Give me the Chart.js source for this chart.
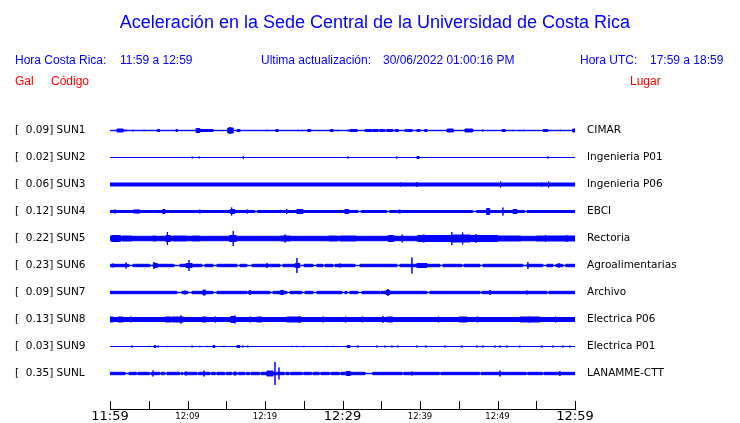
<!DOCTYPE html>
<html>
<head>
<meta charset="utf-8">
<script src="https://cdn.jsdelivr.net/npm/chart.js@4"></script>
<style>
  body { margin: 0; background: #fff; }
  #wrap { position: relative; width: 740px; height: 423px; }
  #wrap span { position: absolute; white-space: pre; font-family: "Liberation Sans", Arial, sans-serif; font-size: 12px; line-height: 14px; color: #0000ff; }
  #wrap span.red { color: #ff0000; }
  #wrap .title { left: 5px; width: 740px; text-align: center; font-size: 18px; line-height: 22px; top: 11px; }
  canvas { position: absolute; left: 0; top: 0; }
</style>
</head>
<body>
<div id="wrap">
  <canvas id="c" width="740" height="423"></canvas>
  <span class="title">Aceleración en la Sede Central de la Universidad de Costa Rica</span>
  <span style="left:15px;top:53px">Hora Costa Rica:</span>
  <span style="left:120px;top:53px">11:59 a 12:59</span>
  <span style="left:261px;top:53px">Ultima actualización:</span>
  <span style="left:383px;top:53px">30/06/2022 01:00:16 PM</span>
  <span style="left:580px;top:53px">Hora UTC:</span>
  <span style="left:650px;top:53px">17:59 a 18:59</span>
  <span class="red" style="left:15px;top:74px">Gal</span>
  <span class="red" style="left:51px;top:74px">Código</span>
  <span class="red" style="left:630px;top:74px">Lugar</span>
</div>
<script>
// stations, top to bottom
var codes = ['SUN1', 'SUN2', 'SUN3', 'SUN4', 'SUN5', 'SUN6', 'SUN7', 'SUN8', 'SUN9', 'SUNL'];
var places = ['CIMAR', 'Ingenieria P01', 'Ingenieria P06', 'EBCI', 'Rectoria', 'Agroalimentarias', 'Archivo', 'Electrica P06', 'Electrica P01', 'LANAMME-CTT'];
var peaks = [0.09, 0.02, 0.06, 0.12, 0.22, 0.23, 0.09, 0.13, 0.03, 0.35];

// time axis (minutes after 11:59)
var timeLabels = ['11:59', '12:09', '12:19', '12:29', '12:39', '12:49', '12:59'];
var bigLabels = ['11:59', '12:29', '12:59'];

// background amplitude of each trace (Gal)
var bases = [0.006, 0, 0.045, 0.03, 0.066, 0.036, 0.036, 0.06, 0, 0.036];

// bursts: [start min, end min, amplitude Gal]; spikes: [min, amplitude Gal]
var sun1Bursts = [[0.9, 1.7, 0.045], [1.7, 2.2, 0.015], [2.8, 3.1, 0.015], [6.1, 6.4, 0.03], [8.5, 8.7, 0.03], [11.1, 11.6, 0.06], [11.6, 13.3, 0.03], [15.2, 15.9, 0.075], [16.4, 16.8, 0.03], [21.4, 21.7, 0.03], [25.5, 25.9, 0.03], [28.4, 28.8, 0.03], [30.6, 31.0, 0.015], [31.0, 31.9, 0.03], [32.9, 33.8, 0.03], [33.9, 34.6, 0.03], [34.8, 35.5, 0.03], [35.7, 36.5, 0.03], [36.8, 37.2, 0.03], [38.1, 38.3, 0.03], [38.4, 39.0, 0.03], [39.6, 40.0, 0.03], [40.6, 40.9, 0.03], [43.5, 44.3, 0.045], [45.8, 46.8, 0.045], [50.6, 51.0, 0.03], [55.9, 56.5, 0.03], [59.7, 60, 0.045]];
var sun1Spikes = [[0.3, 0.015], [4.4, 0.021], [7.5, 0.015], [15.5, 0.105], [17.7, 0.015], [20.3, 0.021], [22.8, 0.015], [24.3, 0.021], [24.8, 0.021], [29.4, 0.021], [48.1, 0.03], [52.0, 0.021], [52.9, 0.021], [53.4, 0.021], [58.1, 0.021]];

var sun2Bursts = [[39.6, 39.9, 0.03]];
var sun2Spikes = [[10.6, 0.03], [11.5, 0.03], [17.2, 0.036], [30.7, 0.03], [31.9, 0.015], [37.0, 0.03], [55.7, 0.015], [56.5, 0.03]];

var sun3Bursts = [];
var sun3Spikes = [[37.5, 0.06], [39.6, 0.075], [50.4, 0.09], [55.7, 0.06], [56.6, 0.09]];

var sun4Bursts = [[3.0, 3.9, 0.045], [6.8, 7.1, 0.06], [15.5, 16.1, 0.06], [18.7, 19.0, 0.006], [24.1, 24.9, 0.06], [30.3, 30.8, 0.06], [32.0, 32.4, 0.006], [35.7, 36.1, 0.006], [46.8, 47.3, 0.006], [48.6, 49.0, 0.09], [52.0, 52.5, 0.06], [53.5, 53.8, 0.006]];
var sun4Spikes = [[0.65, 0.06], [3.6, 0.06], [5.5, 0.036], [9.3, 0.045], [11.6, 0.06], [15.7, 0.12], [16.4, 0.045], [17.7, 0.06], [22.8, 0.075], [31.35, 0.045], [37.4, 0.06], [41.7, 0.036], [50.7, 0.12], [53.15, 0.045], [58.95, 0.045], [59.7, 0.045]];

var sun5Bursts = [[0.2, 1.2, 0.09], [1.6, 2.9, 0.075], [5.5, 6.0, 0.075], [7.2, 7.8, 0.09], [8.1, 9.9, 0.075], [10.6, 11.6, 0.075], [15.4, 16.3, 0.09], [22.0, 23.3, 0.075], [28.2, 29.3, 0.075], [29.7, 31.8, 0.075], [35.9, 36.6, 0.09], [39.7, 42.2, 0.09], [42.2, 44.0, 0.09], [44.0, 46.5, 0.105], [46.5, 50.0, 0.09], [50.0, 53.0, 0.075], [55.0, 60, 0.075]];
var sun5Spikes = [[1.3, 0.105], [7.4, 0.195], [15.9, 0.225], [22.6, 0.12], [36.1, 0.105], [37.7, 0.12], [40.5, 0.12], [44.1, 0.195], [45.5, 0.18], [47.2, 0.135], [56.2, 0.105], [58.95, 0.105]];

var sun6Bursts = [[2.45, 2.97, 0.006], [5.16, 5.55, 0.006], [5.6, 6.1, 0.06], [8.26, 9.03, 0.006], [9.8, 10.6, 0.06], [11.87, 12.26, 0.006], [13.29, 13.8, 0.006], [16.38, 16.77, 0.006], [17.67, 18.32, 0.006], [21.93, 22.32, 0.006], [23.9, 24.5, 0.06], [24.51, 25.03, 0.006], [26.19, 26.7, 0.006], [27.48, 27.74, 0.006], [28.77, 29.03, 0.006], [31.61, 32.25, 0.006], [37.02, 37.41, 0.006], [39.6, 40.9, 0.06], [42.57, 42.96, 0.006], [45.41, 45.67, 0.006], [47.73, 48.12, 0.006], [53.28, 53.79, 0.006], [55.86, 56.37, 0.006], [57.15, 57.53, 0.006], [58.44, 58.82, 0.006]];
var sun6Spikes = [[0.39, 0.06], [2.06, 0.09], [5.68, 0.105], [10.19, 0.165], [20.25, 0.075], [24.12, 0.225], [29.67, 0.06], [38.96, 0.24], [53.92, 0.105], [57.92, 0.075]];

var sun7Bursts = [[8.64, 9.29, 0.006], [10.06, 10.58, 0.006], [12.0, 12.3, 0.075], [13.29, 13.8, 0.006], [17.67, 17.8, 0.006], [20.64, 21.03, 0.006], [22.0, 22.4, 0.06], [22.83, 23.22, 0.006], [24.77, 25.16, 0.006], [26.19, 26.7, 0.006], [29.93, 30.32, 0.006], [30.57, 30.96, 0.006], [31.99, 32.51, 0.006], [34.83, 34.96, 0.006], [35.6, 36.1, 0.06], [40.89, 41.28, 0.006], [47.73, 47.99, 0.006], [56.37, 56.63, 0.006]];
var sun7Spikes = [[9.68, 0.06], [18.06, 0.075], [22.2, 0.075], [35.86, 0.105], [49.02, 0.075], [53.79, 0.06]];

var sun8Bursts = [[0, 0.4, 0.075], [1.0, 1.7, 0.075], [7.1, 7.9, 0.075], [8.0, 9.5, 0.075], [11.9, 12.5, 0.075], [15.6, 16.2, 0.09], [18.9, 19.6, 0.075], [22.8, 24.5, 0.075], [35.7, 36.5, 0.075], [45.0, 46.1, 0.075], [52.9, 55.5, 0.075]];
var sun8Spikes = [[2.7, 0.09], [9.16, 0.12], [13.6, 0.09], [16.1, 0.12], [18.1, 0.09], [24.5, 0.105], [27.5, 0.09], [30.4, 0.09], [32.6, 0.09], [35.2, 0.105], [42.4, 0.09], [47.4, 0.09], [54.1, 0.09], [57.5, 0.09]];

var sun9Bursts = [[5.68, 5.93, 0.03], [13.29, 13.55, 0.03], [16.38, 16.77, 0.03], [30.57, 30.96, 0.03]];
var sun9Spikes = [[2.84, 0.03], [5.03, 0.021], [6.19, 0.03], [7.35, 0.021], [10.58, 0.03], [11.61, 0.021], [12.51, 0.021], [14.7, 0.021], [17.16, 0.03], [17.8, 0.03], [23.48, 0.021], [24.12, 0.021], [25.03, 0.021], [27.99, 0.021], [28.77, 0.021], [31.99, 0.03], [34.44, 0.03], [35.48, 0.03], [36.38, 0.03], [37.15, 0.03], [39.6, 0.03], [40.76, 0.03], [43.22, 0.03], [45.41, 0.03], [47.34, 0.03], [48.12, 0.03], [49.67, 0.03], [50.31, 0.03], [51.21, 0.03], [52.89, 0.03], [55.73, 0.03], [57.15, 0.03], [58.44, 0.03], [59.34, 0.03]];

var sunlBursts = [[1.94, 2.45, 0.006], [3.4, 3.6, 0.006], [5.1, 5.3, 0.006], [6.4, 6.6, 0.006], [7.1, 7.35, 0.006], [9.0, 9.2, 0.006], [9.4, 9.6, 0.006], [11.2, 11.4, 0.006], [12.9, 13.1, 0.006], [13.6, 13.8, 0.006], [14.8, 15.0, 0.006], [15.7, 15.9, 0.006], [16.4, 16.6, 0.006], [17.4, 17.6, 0.006], [18.0, 18.2, 0.006], [19.3, 19.5, 0.006], [20.25, 21.03, 0.075], [22.5, 22.7, 0.006], [23.1, 23.3, 0.006], [24.8, 25.0, 0.006], [26.0, 26.2, 0.006], [27.0, 27.2, 0.006], [28.3, 28.5, 0.006], [29.6, 29.8, 0.006], [30.5, 31.0, 0.06], [32.9, 33.9, 0.006], [37.7, 37.9, 0.006], [42.5, 42.7, 0.006], [47.7, 47.9, 0.006], [53.7, 53.9, 0.006], [55.8, 56.0, 0.006]];
var sunlSpikes = [[5.55, 0.09], [9.8, 0.06], [12.13, 0.09], [16.13, 0.06], [21.29, 0.345], [21.8, 0.18], [30.57, 0.075], [38.96, 0.06], [50.31, 0.09], [58.05, 0.075]];

var bursts = [sun1Bursts, sun2Bursts, sun3Bursts, sun4Bursts, sun5Bursts, sun6Bursts, sun7Bursts, sun8Bursts, sun9Bursts, sunlBursts];
var spikes = [sun1Spikes, sun2Spikes, sun3Spikes, sun4Spikes, sun5Spikes, sun6Spikes, sun7Spikes, sun8Spikes, sun9Spikes, sunlSpikes];

var ROW = 0.81;      // Gal between two traces
var BLUE = '#0000ff';

// step envelope of one trace
function envelope(base, list, spk) {
    var cuts = [0, 60];
    list.forEach(function (b) { cuts.push(b[0], b[1]); });
    spk.forEach(function (s) { cuts.push(s[0]); });
    cuts = cuts.filter(function (v, i) { return cuts.indexOf(v) === i; }).sort(function (a, b) { return a - b; });

    function level(a, b) {
        var m = (a + b) / 2, v = null;
        list.forEach(function (r) {
            if (r[0] <= m && m <= r[1]) v = v === null ? r[2] : Math.max(v, r[2]);
        });
        return v === null ? base : v;
    }

    var pts = [];
    cuts.forEach(function (x, i) {
        var lv = i < cuts.length - 1 ? level(x, cuts[i + 1]) : pts[pts.length - 1].a;
        spk.forEach(function (s) {
            if (s[0] === x) pts.push({x: x, a: Math.max(s[1], lv)});
        });
        pts.push({x: x, a: lv});
    });
    return pts;
}

var datasets = [];
codes.forEach(function (code, i) {
    var off = -i * ROW;
    var env = envelope(bases[i], bursts[i], spikes[i]);
    var common = {
        borderColor: BLUE,
        backgroundColor: BLUE,
        borderWidth: 1,
        pointRadius: 0,
        stepped: true,
        tension: 0
    };
    datasets.push(Object.assign({
        label: code,
        data: env.map(function (p) { return {x: p.x, y: off + p.a}; }),
        fill: false
    }, common));
    datasets.push(Object.assign({
        label: code + ' -',
        data: env.map(function (p) { return {x: p.x, y: off - p.a}; }),
        fill: '-1'
    }, common));
});

var rowTicks = function (axis) {
    axis.ticks = codes.map(function (c, i) { return {value: -i * ROW}; });
};

// side axes must not push the chart area around
var noVPad = function (w) {
    return function (s) {
        s.width = w;
        s.paddingTop = 0;
        s.paddingBottom = 0;
    };
};

var upTicks = {
    id: 'upTicks',
    afterDraw: function (chart) {
        var sx = chart.scales.x;
        var ctx = chart.ctx;
        var b = chart.chartArea.bottom;
        ctx.save();
        ctx.strokeStyle = '#000';
        ctx.lineWidth = 1;
        ctx.beginPath();
        sx.ticks.forEach(function (t) {
            var px = Math.round(sx.getPixelForValue(t.value)) + 0.5;
            ctx.moveTo(px, b);
            ctx.lineTo(px, b - 8);
        });
        ctx.stroke();
        ctx.restore();
    }
};

var chart = new Chart(document.getElementById('c').getContext('2d'), {
    type: 'line',
    data: {datasets: datasets},
    plugins: [upTicks],
    options: {
        responsive: false,
        animation: false,
        layout: {padding: {left: 15, top: 103, right: 0, bottom: 0}},
        plugins: {
            legend: {display: false},
            tooltip: {enabled: false},
            title: {display: false}
        },
        scales: {
            x: {
                type: 'linear',
                min: 0,
                max: 60,
                grid: {display: false, drawTicks: false},
                border: {display: true, color: '#000', width: 1},
                afterFit: function (s) { s.height = 14; },
                ticks: {
                    stepSize: 5,
                    autoSkip: false,
                    maxRotation: 0,
                    padding: 0,
                    color: '#000',
                    font: function (ctx) {
                        var lab = ctx.tick ? ctx.tick.label : '';
                        return {family: 'DejaVu Sans', size: bigLabels.indexOf(lab) >= 0 ? 13 : 8.5, lineHeight: '15px'};
                    },
                    callback: function (v) {
                        return v % 10 === 0 ? timeLabels[v / 10] : '';
                    }
                }
            },
            y: {
                type: 'linear',
                position: 'left',
                min: -8.355,
                max: 0.825,
                grid: {display: false, drawTicks: false},
                border: {display: false},
                afterBuildTicks: rowTicks,
                afterFit: noVPad(95),
                ticks: {
                    crossAlign: 'far',
                    padding: 0,
                    color: '#000',
                    font: {family: 'DejaVu Sans', size: 10.5},
                    callback: function (v, idx) {
                        return '[  ' + peaks[idx].toFixed(2) + '] ' + codes[idx];
                    }
                }
            },
            y2: {
                type: 'linear',
                position: 'right',
                min: -8.355,
                max: 0.825,
                grid: {display: false, drawTicks: false},
                border: {display: false},
                afterBuildTicks: rowTicks,
                afterFit: noVPad(165),
                ticks: {
                    padding: 12,
                    color: '#000',
                    font: {family: 'DejaVu Sans', size: 10.5},
                    callback: function (v, idx) { return places[idx]; }
                }
            }
        }
    }
});
</script>
</body>
</html>
